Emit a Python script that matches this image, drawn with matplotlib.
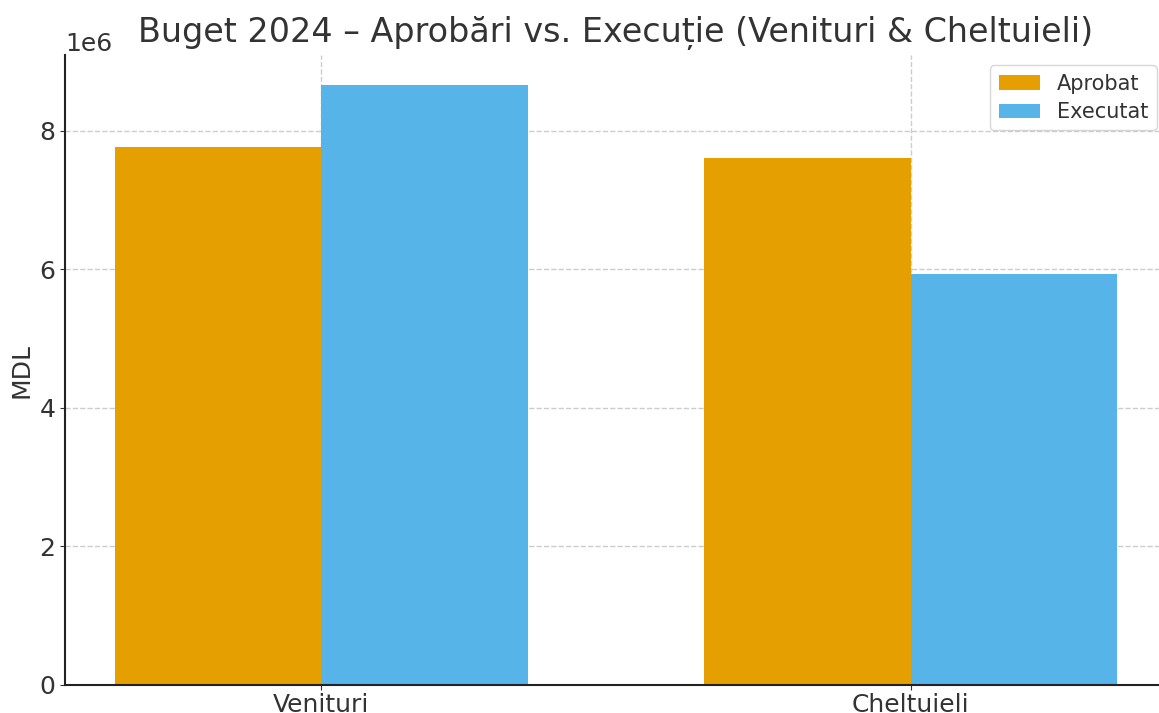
# Buget 2024 - aprobari vs executie

import numpy as np
import matplotlib.pyplot as plt

# ── Data ─────────────────────────────────────────────
categorii = ["Venituri", "Cheltuieli"]
aprobat = [7.77e6, 7.60e6]
executat = [8.66e6, 5.93e6]

# ── Chart ────────────────────────────────────────────
text_color = "#333333"
plt.rcParams["font.family"] = ["DejaVu Sans"]
plt.rcParams["text.color"] = text_color
plt.rcParams["axes.labelcolor"] = text_color
plt.rcParams["xtick.color"] = text_color
plt.rcParams["ytick.color"] = text_color

fig = plt.figure(figsize=(11.59, 7.13), dpi=100)
ax = fig.add_axes([65 / 1159, 28 / 713, 1102 / 1159, 630 / 713])

x = np.arange(len(categorii))
w = 0.35
ax.bar(x - w / 2, aprobat, w, color="#E69F00", label="Aprobat", zorder=2)
ax.bar(x + w / 2, executat, w, color="#56B4E9", label="Executat", zorder=2)

ax.set_xticks(x)
ax.set_xticklabels(categorii, fontsize=18)
ax.tick_params(axis="y", labelsize=18)
ax.tick_params(axis="x", pad=2)
ax.set_ylabel("MDL", fontsize=18)
ax.yaxis.get_offset_text().set_fontsize(18)
ax.set_title("Buget 2024 – Aprobări vs. Execuție (Venituri & Cheltuieli)",
             fontsize=24, pad=9)

ax.grid(True, linestyle="--", color="#cccccc", linewidth=1, zorder=0)
ax.set_axisbelow(True)
for s in ["top", "right"]:
    ax.spines[s].set_visible(False)
ax.spines["left"].set_color("#222222")
ax.spines["bottom"].set_color("#222222")
ax.spines["left"].set_linewidth(1.5)
ax.spines["bottom"].set_linewidth(1.5)

leg = ax.legend(fontsize=15, loc="upper right", labelspacing=0.4,
                edgecolor="#cccccc", fancybox=True)

fig.savefig("out.png", dpi=100)
